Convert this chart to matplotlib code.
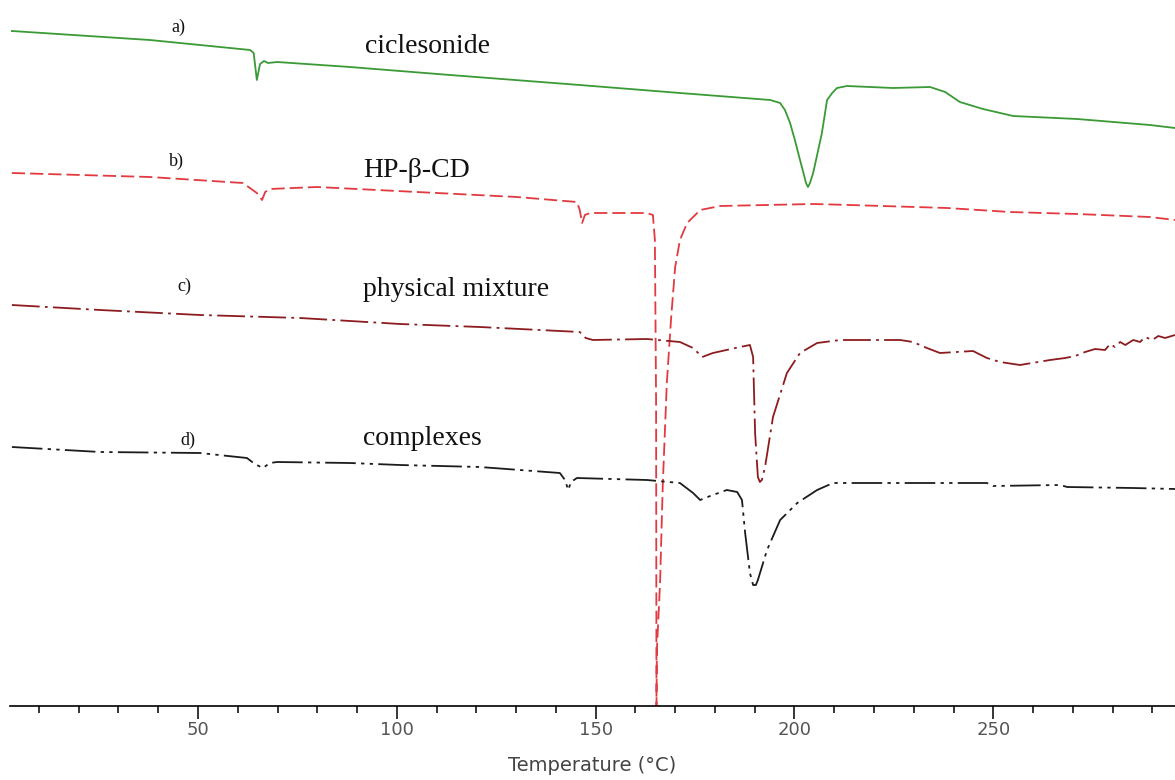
import numpy as np
import matplotlib
matplotlib.use("Agg")
import matplotlib.pyplot as plt
from matplotlib.ticker import MultipleLocator

# DSC thermograms, temperature in degC, heat flow in arbitrary units (endo down)
t_a = [3.2, 37.9, 63.1, 64.0, 64.8, 65.6, 66.6, 67.6, 69.9, 88.2, 113.4, 146.0, 171.2,
       193.9, 196.4, 197.6, 198.9, 200.1, 201.4, 202.4, 202.9, 203.4, 203.9, 204.7,
       205.7, 206.9, 208.2, 209.5, 210.7, 213.2, 224.8, 234.1, 237.9, 241.6, 247.4,
       255.0, 271.1, 289.4, 295.7]
hf_a = [675, 666, 656, 653, 626, 642, 645, 643, 644, 639, 631, 621, 613,
        606, 603, 596, 583, 566, 546, 531, 523, 519, 523, 533,
        551, 573, 606, 613, 618, 620, 618, 619, 614, 604, 597,
        590, 587, 581, 578]

t_b = [3.2, 37.9, 61.3, 64.8, 66.1, 66.9, 68.1, 79.9, 105.1, 130.2, 145.3, 146.0,
       146.6, 147.3, 148.6, 162.9, 164.4, 164.9, 165.2, 165.3, 165.4, 166.2, 166.9,
       167.9, 169.0, 170.0, 171.2, 173.0, 176.3, 181.3, 204.7, 214.0, 238.4, 254.2,
       271.1, 289.4, 295.7]
hf_b = [533, 529, 523, 513, 506, 514, 517, 519, 514, 509, 504, 496,
        483, 491, 493, 493, 491, 466, 306, 0, 56, 123, 223,
        323, 389, 439, 466, 483, 496, 500, 502, 501, 498, 494,
        492, 489, 486]

t_c = [3.2, 25.4, 50.5, 75.7, 100.8, 120.9, 146.0, 147.5, 149.3, 162.9, 171.2, 174.5,
       176.8, 179.5, 186.3, 188.8, 189.6, 190.1, 190.8, 191.3, 191.8, 192.6, 194.6,
       198.1, 201.4, 205.7, 211.5, 226.6, 229.8, 233.3, 236.6, 244.9, 248.4, 251.7,
       256.7, 264.3, 268.1, 270.6, 273.1, 275.6, 278.1, 279.4, 280.6, 281.9, 283.2,
       285.2, 286.9, 288.2, 290.0, 291.5, 293.2, 295.7]
hf_c = [401, 396, 391, 388, 382, 379, 374, 368, 366, 367, 364, 358,
        349, 353, 359, 361, 349, 273, 229, 224, 226, 239, 289,
        333, 353, 363, 366, 366, 364, 358, 353, 355, 348, 344,
        341, 346, 348, 350, 354, 357, 356, 362, 359, 364, 361,
        366, 364, 369, 366, 370, 368, 371]

t_d = [3.2, 25.4, 50.5, 62.3, 64.3, 66.3, 68.1, 69.9, 88.2, 100.8, 120.9, 141.0,
       142.3, 143.1, 143.8, 145.3, 162.9, 171.2, 174.5, 176.3, 178.8, 183.0, 185.6,
       186.8, 187.6, 188.8, 189.6, 190.3, 190.8, 193.1, 196.4, 200.7, 205.7, 209.7,
       226.6, 248.4, 249.9, 266.8, 268.6, 285.2, 295.7]
hf_d = [259, 254, 253, 248, 242, 238, 243, 244, 243, 241, 239, 233,
        226, 216, 224, 228, 226, 223, 213, 206, 210, 216, 214,
        206, 173, 133, 121, 121, 126, 156, 186, 203, 216, 223,
        223, 223, 220, 221, 219, 218, 217]

letters = ["a)", "b)", "c)", "d)"]
names = ["ciclesonide", "HP-\u03b2-CD", "physical mixture", "complexes"]
letter_pos = [(45.0, 679), (44.7, 545), (46.5, 420), (47.5, 266)]
name_pos = [(92.0, 653), (91.5, 529), (91.5, 410), (91.5, 261)]

plt.rcParams['lines.scale_dashes'] = False

fig = plt.figure(figsize=(11.75, 7.8), dpi=100)
ax = fig.add_axes([10 / 1175, 74 / 780, 1165 / 1175, 706 / 780])

ax.plot(t_a, hf_a, color='#3a9a36', lw=1.3, solid_joinstyle='round')
ax.plot(t_b, hf_b, color='#e23a40', lw=1.3, dashes=(9.5, 3.6))
ax.plot(t_c, hf_c, color='#8c1c1f', lw=1.3, dashes=(20, 3.8, 2, 3.8))
ax.plot(t_d, hf_d, color='#1c1c1c', lw=1.3, dashes=(22, 3.8, 2.4, 3.8, 2.4, 3.8))

for lab, (x, y) in zip(letters, letter_pos):
    ax.text(x, y, lab, family='Liberation Serif', fontsize=13,
            ha='center', va='center', color='#111111')
for lab, (x, y) in zip(names, name_pos):
    ax.text(x, y, lab, family='Liberation Serif', fontsize=20,
            ha='left', va='baseline', color='#111111')

ax.set_xlim(2.72, 295.7)
ax.set_ylim(0, 706)
for s in ['left', 'top', 'right']:
    ax.spines[s].set_visible(False)
ax.spines['bottom'].set_linewidth(1.2)
ax.set_yticks([])
ax.xaxis.set_major_locator(MultipleLocator(50))
ax.xaxis.set_minor_locator(MultipleLocator(10))
ax.tick_params(axis='x', which='major', length=9, width=1.1, pad=2,
               labelsize=13, labelcolor='#555555')
ax.tick_params(axis='x', which='minor', length=5, width=1.1)
for lbl in ax.get_xticklabels():
    lbl.set_family('DejaVu Sans')
ax.set_xlabel("Temperature (\u00b0C)", fontsize=14, color='#444444', labelpad=12)

fig.savefig('out.png', dpi=100)
